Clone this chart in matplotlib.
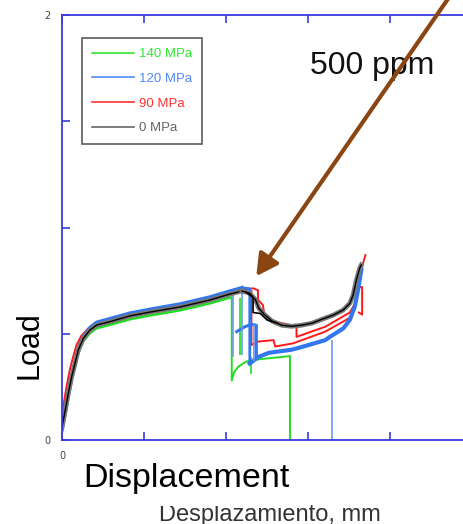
#!/usr/bin/env python3
"""Load vs displacement curves, 500 ppm, for four prestress levels."""
import matplotlib
matplotlib.use("Agg")
import matplotlib.pyplot as plt
from matplotlib.lines import Line2D

# ---- data (displacement, load) ----
rise_x = [0.0, 0.04, 0.077, 0.118, 0.159, 0.199, 0.26, 0.341, 0.423, 0.585, 0.829,
          1.073, 1.439, 1.805, 2.049, 2.195]

black_y = [0.062, 0.141, 0.220, 0.298, 0.361, 0.424, 0.478, 0.518, 0.541, 0.557, 0.584,
           0.602, 0.626, 0.659, 0.687, 0.701]
black_tail_x = [2.195, 2.29, 2.36, 2.40, 2.47, 2.56, 2.68, 2.80, 2.92, 3.05, 3.15, 3.31,
                3.43, 3.51, 3.55, 3.59, 3.63, 3.65]
black_tail_y = [0.701, 0.69, 0.66, 0.62, 0.59, 0.56, 0.54, 0.535, 0.54, 0.55, 0.565, 0.588,
                0.612, 0.643, 0.682, 0.753, 0.808, 0.824]
black_step_x = [2.25, 2.33, 2.33, 2.42, 2.50, 2.62]
black_step_y = [0.695, 0.67, 0.60, 0.595, 0.565, 0.55]

blue_y = [0.05, 0.135, 0.215, 0.295, 0.36, 0.425, 0.485, 0.528, 0.553, 0.570, 0.596,
          0.614, 0.639, 0.672, 0.700, 0.716]
blue_tail_x = [2.195, 2.29, 2.29]
blue_tail_y = [0.716, 0.712, 0.36]
blue_low_x = [2.29, 2.39, 2.52, 2.80, 2.90, 3.21, 3.27, 3.43, 3.51, 3.57, 3.61, 3.65]
blue_low_y = [0.36, 0.39, 0.41, 0.425, 0.435, 0.47, 0.486, 0.525, 0.565, 0.627, 0.706, 0.80]
blue_mid_x = [2.13, 2.23, 2.31, 2.37, 2.37]
blue_mid_y = [0.51, 0.533, 0.544, 0.54, 0.39]
blue_drops_x = [2.09, 2.19, 2.34, 3.29]
blue_drops_top = [0.69, 0.70, 0.54, 0.47]
blue_drops_bot = [0.39, 0.40, 0.37, 0.0]

green_y = [0.05, 0.13, 0.21, 0.29, 0.35, 0.41, 0.465, 0.503, 0.526, 0.542, 0.568,
           0.586, 0.610, 0.643, 0.670]
green_low_x = [2.07, 2.07, 2.10, 2.15, 2.25, 2.41, 2.78, 2.78]
green_low_y = [0.672, 0.28, 0.32, 0.345, 0.37, 0.38, 0.395, 0.0]
green_drops_x = [2.17, 2.31]
green_drops_top = [0.67, 0.39]
green_drops_bot = [0.40, 0.31]

red_rise_x = [0.0, 0.02, 0.055, 0.095, 0.135, 0.175, 0.235, 0.32, 0.41, 0.585, 0.829,
              1.073, 1.439, 1.805, 2.049, 2.195]
red_y = [0.09, 0.17, 0.25, 0.33, 0.39, 0.445, 0.49, 0.525, 0.545, 0.560, 0.588,
         0.606, 0.630, 0.663, 0.691, 0.705]
red_tail_x = [2.195, 2.33, 2.39, 2.39, 2.45, 2.47, 2.56, 2.86, 2.86, 3.04, 3.21, 3.51,
              3.57, 3.63, 3.67, 3.70]
red_tail_y = [0.705, 0.714, 0.705, 0.66, 0.635, 0.58, 0.56, 0.535, 0.485, 0.51, 0.533,
              0.60, 0.64, 0.75, 0.83, 0.87]
red_low_x = [2.31, 2.31, 2.39, 2.58, 2.60, 2.82, 3.21, 3.51, 3.57]
red_low_y = [0.70, 0.447, 0.463, 0.47, 0.44, 0.455, 0.51, 0.575, 0.63]
red_spike_x = [3.60, 3.66, 3.66, 3.62]
red_spike_y = [0.72, 0.72, 0.59, 0.60]

labels = ["140 MPa", "120 MPa", "90 MPa", "0 MPa"]
legend_colors = ["#33e633", "#5588f5", "#ff3030", "#666666"]

# ---- figure ----
fig = plt.figure(figsize=(4.63, 5.24), dpi=100)
ax = fig.add_axes([62 / 463, 84 / 524, 430 / 463, 425 / 524])
ax.set_xlim(0, 430 / 82)
ax.set_ylim(0, 2)

axis_blue = "#3a3ae0"
for side in ["left", "bottom", "top"]:
    ax.spines[side].set_color(axis_blue)
    ax.spines[side].set_linewidth(1.3)
ax.spines["right"].set_visible(False)

ax.set_xticks([0, 1, 2, 3, 4, 5])
ax.set_xticklabels(["0", "", "", "", "", ""])
ax.set_yticks([0, 0.5, 1.0, 1.5, 2.0])
ax.set_yticklabels(["0", "", "", "", "2"])
ax.tick_params(direction="in", length=6, width=1.2, color=axis_blue,
               labelcolor="#444444", labelsize=7, top=True, pad=8)

# green
ax.plot(rise_x[:15], green_y, color="#22dd22", lw=1.8)
ax.plot(green_low_x, green_low_y, color="#22dd22", lw=1.4)
ax.vlines(green_drops_x, green_drops_bot, green_drops_top, color="#22dd22", lw=1.2)

# red
ax.plot(red_rise_x, red_y, color="#ff1a1a", lw=1.4)
ax.plot(red_tail_x, red_tail_y, color="#ff1a1a", lw=1.4)
ax.plot(red_low_x, red_low_y, color="#ff1a1a", lw=1.4)
ax.plot(red_spike_x, red_spike_y, color="#ff1a1a", lw=1.4)

# blue
ax.plot(rise_x, blue_y, color="#3377ee", lw=2.8)
ax.plot(blue_tail_x, blue_tail_y, color="#3377ee", lw=2.0)
ax.plot(blue_low_x, blue_low_y, color="#3377ee", lw=3.0)
ax.plot(blue_mid_x, blue_mid_y, color="#3377ee", lw=2.2)
ax.vlines(blue_drops_x, blue_drops_bot, blue_drops_top, color="#6a9af0", lw=1.2)

# black (gray halo)
ax.plot(rise_x, black_y, color="#777777", lw=3.4)
ax.plot(rise_x, black_y, color="black", lw=1.0)
ax.plot(black_tail_x, black_tail_y, color="#777777", lw=3.4)
ax.plot(black_tail_x, black_tail_y, color="black", lw=1.0)
ax.plot(black_step_x, black_step_y, color="black", lw=1.2)

# legend
handles = [Line2D([], [], color=c, lw=1.2) for c in legend_colors]
leg = ax.legend(handles, labels, loc="upper left", bbox_to_anchor=(20 / 430, 402 / 425),
                frameon=True, fancybox=False, edgecolor="#333333",
                prop={"family": "Liberation Sans", "size": 9.5},
                labelcolor=legend_colors, handlelength=3.2, handletextpad=0.4,
                labelspacing=0.95, borderpad=0.75, borderaxespad=0)
leg.get_frame().set_linewidth(1.2)

# annotation arrow and text
ax.text((372 - 62) / 82, (440 - 66) / 212.5, "500 ppm", fontsize=23,
        family="Liberation Sans", ha="center", va="center", color="#111111")
ax.annotate("", xy=(2.35, 0.76), xytext=(4.75, 2.1),
            arrowprops=dict(arrowstyle="-|>,head_length=1.3,head_width=0.7",
                            color="#8b4513", lw=3),
            annotation_clip=False)

# axis labels
fig.text(270 / 463, 1 - 515 / 524, "Desplazamiento, mm", fontsize=17,
         family="Liberation Sans", color="#333333", ha="center", va="center")
fig.text(83 / 463, 1 - 478 / 524, "Displacement", fontsize=24.5,
         family="Liberation Sans", color="black", ha="left", va="center",
         bbox=dict(facecolor="white", edgecolor="none", pad=9))
fig.text(30 / 463, 1 - 345 / 524, "Load", fontsize=22, rotation=90,
         family="Liberation Sans", color="black", ha="center", va="center")

fig.savefig("out.png", dpi=100)
